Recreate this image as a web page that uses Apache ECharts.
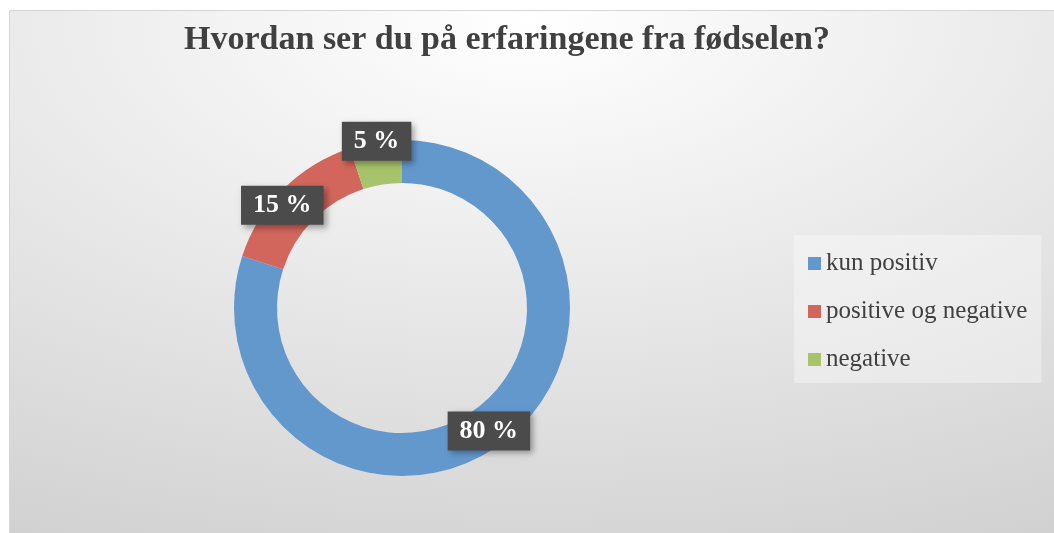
<!DOCTYPE html>
<html>
<head>
<meta charset="utf-8">
<script src="https://cdn.jsdelivr.net/npm/echarts@6/dist/echarts.min.js"></script>
<style>
  html, body { margin: 0; padding: 0; background: #fff; }
  #main { width: 1054px; height: 533px; }
</style>
</head>
<body>
<div id="main"></div>
<script>
// data
var categories = ['kun positiv', 'positive og negative', 'negative'];
var values = [80, 15, 5];
var colors = ['#6398cd', '#d2665c', '#a8c46a'];
// nudges for the data labels (dx, dy), per slice
var labelShift = [[-1, 2], [-14, 3], [-2, -19]];

var myChart = echarts.init(document.getElementById('main'));
myChart.setOption({
  animation: false,
  graphic: [
    // background, gradient stretched horizontally (elliptical)
    {
      type: 'rect',
      z: -10,
      silent: true,
      x: 9,
      y: 10,
      scaleX: 2,
      shape: { x: 0, y: 0, width: 523, height: 530 },
      style: {
        fill: new echarts.graphic.RadialGradient(259, 10, 600, [
          { offset: 0, color: '#ffffff' },
          { offset: 1, color: '#cfcfcf' }
        ], true)
      }
    },
    {
      type: 'rect',
      z: -9,
      silent: true,
      shape: { x: 9.5, y: 10.5, width: 1050, height: 530 },
      style: { fill: null, stroke: '#d6d6d6', lineWidth: 1 }
    }
  ],
  title: {
    text: 'Hvordan ser du på erfaringene fra fødselen?',
    left: 507,
    textAlign: 'center',
    top: 23,
    padding: 0,
    textStyle: {
      fontFamily: 'Liberation Serif',
      fontWeight: 'bold',
      fontSize: 34,
      color: '#404040'
    }
  },
  legend: {
    orient: 'vertical',
    left: 794,
    top: 235,
    padding: [16, 14, 11, 14],
    itemGap: 23,
    itemWidth: 13,
    itemHeight: 13,
    icon: 'rect',
    backgroundColor: 'rgba(255,255,255,0.35)',
    data: categories,
    textStyle: {
      fontFamily: 'Liberation Serif',
      fontSize: 25,
      color: '#404040'
    }
  },
  series: [{
    name: 'erfaring',
    type: 'pie',
    center: [402, 308],
    radius: [125, 168],
    startAngle: 90,
    clockwise: true,
    avoidLabelOverlap: false,
    color: colors,
    label: {
      show: true,
      position: 'inside',
      formatter: '{c} %',
      fontFamily: 'Liberation Serif',
      fontWeight: 'bold',
      fontSize: 26,
      color: '#ffffff',
      backgroundColor: '#4b4b4b',
      padding: [7, 12, 6, 12],
      shadowColor: 'rgba(0,0,0,0.35)',
      shadowBlur: 6,
      shadowOffsetX: 3,
      shadowOffsetY: 3
    },
    labelLine: { show: false },
    labelLayout: function (params) {
      var s = labelShift[params.dataIndex];
      return { dx: s[0], dy: s[1] };
    },
    emphasis: { disabled: true },
    data: categories.map(function (c, i) {
      return { name: c, value: values[i] };
    })
  }]
});
</script>
</body>
</html>
